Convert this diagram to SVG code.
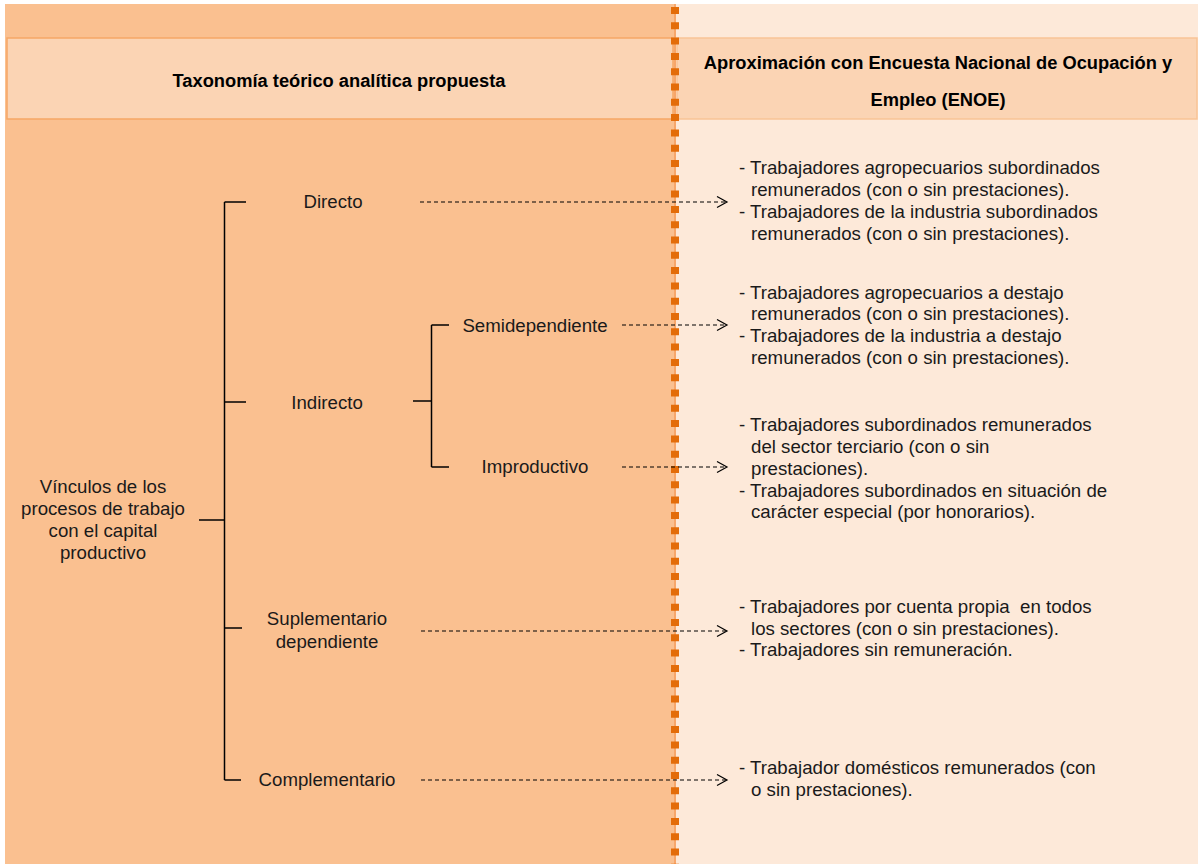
<svg xmlns="http://www.w3.org/2000/svg" width="1198" height="864" viewBox="0 0 1198 864">
  <defs>
    <style>
      text { font-family: "Liberation Sans", Arial, sans-serif; font-size: 18.67px; fill: #1a1a1a; }
      .hdr { font-weight: bold; font-size: 18.3px; fill: #000; }
      .mid { text-anchor: middle; }
      .tree { fill: none; stroke: #000; stroke-width: 1.5; }
      .link { fill: none; stroke: #000; stroke-width: 1.2; stroke-dasharray: 4 3; }
    </style>
    <marker id="chev" markerUnits="userSpaceOnUse" markerWidth="14" markerHeight="14" refX="11" refY="6" orient="auto">
      <path d="M1,0.5 L11,6 L1,11.5" fill="none" stroke="#000" stroke-width="1.2"/>
    </marker>
  </defs>

  <!-- background panels -->
  <rect x="0" y="0" width="1198" height="864" fill="#ffffff"/>
  <rect x="5" y="4" width="670" height="860" fill="#FAC090"/>
  <rect x="675" y="4" width="523" height="860" fill="#FDE9D9"/>

  <!-- header band -->
  <g id="header-left">
    <rect x="7" y="38" width="666" height="81" fill="#FBD4B4" stroke="#F6A765" stroke-width="1.5"/>
    <text class="hdr mid" x="339" y="87">Taxonomía teórico analítica propuesta</text>
  </g>
  <g id="header-right">
    <rect x="677" y="38" width="520" height="81" fill="#FBD4B4" stroke="#F9C496" stroke-width="1.5"/>
    <text class="hdr mid" x="938" y="69">Aproximación con Encuesta Nacional de Ocupación y</text>
    <text class="hdr mid" x="938" y="106">Empleo (ENOE)</text>
  </g>

  <!-- column divider -->
  <g id="divider">
    <line x1="675" y1="4" x2="675" y2="864" stroke="#F7A66A" stroke-width="2"/>
    <line x1="675" y1="0" x2="675" y2="864" stroke="#E36C09" stroke-width="8" stroke-dasharray="7 8.3" stroke-dashoffset="8.3"/>
  </g>

  <!-- tree brackets and dashed links -->
  <g id="connectors">
    <path class="tree" d="M199,520 H224.5 M224.5,202 V780 M224.5,202 H246 M224.5,402 H246 M224.5,628 H242 M224.5,780 H241"/>
    <path class="tree" d="M413,401 H431.5 M431.5,325 V467 M431.5,325 H449 M431.5,467 H449"/>
    <line class="link" x1="420" y1="202" x2="727" y2="202" marker-end="url(#chev)"/>
    <line class="link" x1="622" y1="325" x2="727" y2="325" marker-end="url(#chev)"/>
    <line class="link" x1="622" y1="467" x2="727" y2="467" marker-end="url(#chev)"/>
    <line class="link" x1="421" y1="631" x2="727" y2="631" marker-end="url(#chev)"/>
    <line class="link" x1="421" y1="780" x2="727" y2="780" marker-end="url(#chev)"/>
  </g>

  <!-- taxonomy nodes -->
  <g id="node-root">
    <text class="mid" x="103" y="493">Vínculos de los</text>
    <text class="mid" x="103" y="515">procesos de trabajo</text>
    <text class="mid" x="103" y="537">con el capital</text>
    <text class="mid" x="103" y="559">productivo</text>
  </g>
  <g id="node-directo"><text class="mid" x="333" y="208">Directo</text></g>
  <g id="node-indirecto"><text class="mid" x="327" y="409">Indirecto</text></g>
  <g id="node-semidependiente"><text class="mid" x="535" y="332">Semidependiente</text></g>
  <g id="node-improductivo"><text class="mid" x="535" y="473">Improductivo</text></g>
  <g id="node-suplementario">
    <text class="mid" x="327" y="625">Suplementario</text>
    <text class="mid" x="327" y="648">dependiente</text>
  </g>
  <g id="node-complementario"><text class="mid" x="327" y="786">Complementario</text></g>

  <!-- ENOE categories -->
  <g id="enoe-directo">
    <text x="739" y="174">- Trabajadores agropecuarios subordinados</text>
    <text x="751" y="196">remunerados (con o sin prestaciones).</text>
    <text x="739" y="218">- Trabajadores de la industria subordinados</text>
    <text x="751" y="240">remunerados (con o sin prestaciones).</text>
  </g>
  <g id="enoe-semidependiente">
    <text x="739" y="299">- Trabajadores agropecuarios a destajo</text>
    <text x="751" y="320">remunerados (con o sin prestaciones).</text>
    <text x="739" y="342">- Trabajadores de la industria a destajo</text>
    <text x="751" y="364">remunerados (con o sin prestaciones).</text>
  </g>
  <g id="enoe-improductivo">
    <text x="739" y="431">- Trabajadores subordinados remunerados</text>
    <text x="751" y="453">del sector terciario (con o sin</text>
    <text x="751" y="475">prestaciones).</text>
    <text x="739" y="497">- Trabajadores subordinados en situación de</text>
    <text x="751" y="518">carácter especial (por honorarios).</text>
  </g>
  <g id="enoe-suplementario">
    <text x="739" y="613" style="white-space:pre">- Trabajadores por cuenta propia  en todos</text>
    <text x="751" y="635">los sectores (con o sin prestaciones).</text>
    <text x="739" y="656">- Trabajadores sin remuneración.</text>
  </g>
  <g id="enoe-complementario">
    <text x="739" y="774">- Trabajador domésticos remunerados (con</text>
    <text x="751" y="796">o sin prestaciones).</text>
  </g>
</svg>
